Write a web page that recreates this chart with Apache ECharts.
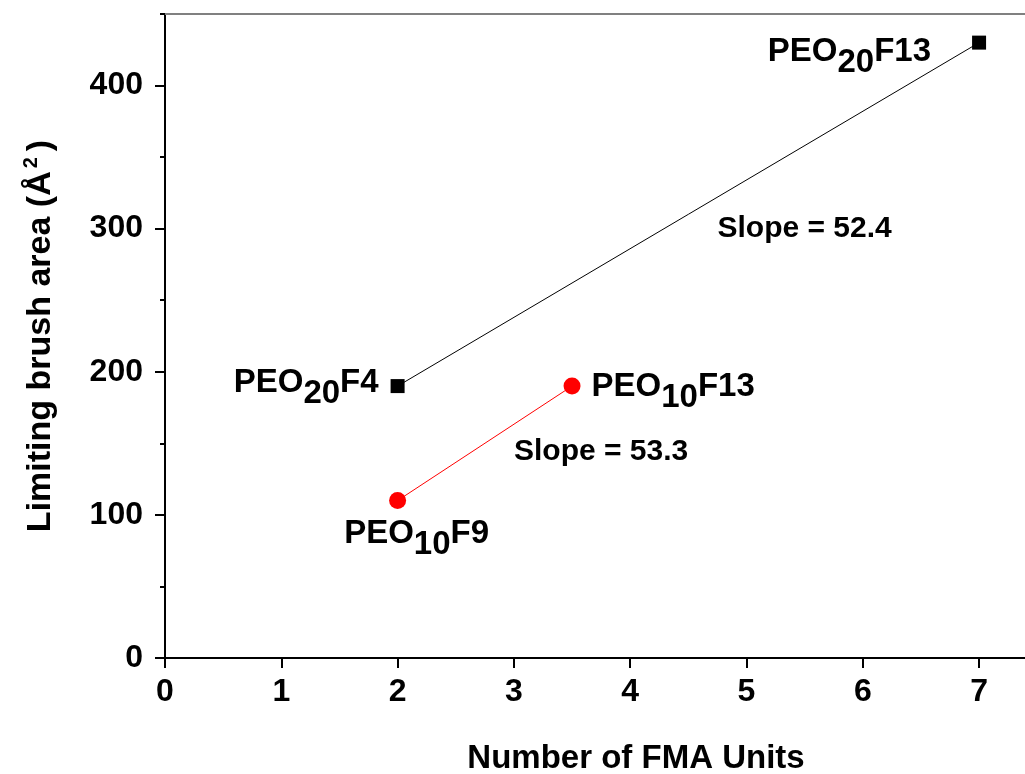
<!DOCTYPE html>
<html>
<head>
<meta charset="utf-8">
<script src="https://cdn.jsdelivr.net/npm/echarts@6/dist/echarts.min.js"></script>
<style>html,body{margin:0;padding:0;background:#fff;overflow:hidden;}#c{width:1025px;height:774px;}</style>
</head>
<body>
<div id="c"></div>
<script>
// ---- data ----
const peo20X = [2, 7];
const peo20Y = [190, 430];
const peo20Names = [['PEO', '20', 'F4'], ['PEO', '20', 'F13']];
const peo10X = [2, 3.5];
const peo10Y = [110, 190];
const peo10Names = [['PEO', '10', 'F9'], ['PEO', '10', 'F13']];
const slopeText = ['Slope = 52.4', 'Slope = 53.3'];
const slopeX = [5.5, 3.75];
const slopeY = [300, 144];
const xTicks = [0, 1, 2, 3, 4, 5, 6, 7, 8];
const yTicks = [0, 100, 200, 300, 400];
const yMinorTicks = [50, 150, 250, 350, 450];

const FONT = '"Liberation Sans", Arial, sans-serif';
const rich = {
  n: {fontSize: 33, fontWeight: 'bold', fontFamily: FONT, color: '#000', lineHeight: 34, verticalAlign: 'top'},
  s: {fontSize: 33, fontWeight: 'bold', fontFamily: FONT, color: '#000', lineHeight: 34, verticalAlign: 'top', padding: [11, 0, 0, 0]}
};
function fmtName(parts) { return '{n|' + parts[0] + '}{s|' + parts[1] + '}{n|' + parts[2] + '}'; }

const peo20Labels = [
  {position: 'left', distance: 12, offset: [0, -3]},
  {position: 'left', distance: 41, offset: [0, 10]}
];
const peo10Labels = [
  {position: 'bottom', distance: 8, offset: [19, 0]},
  {position: 'right', distance: 11, offset: [0, 1]}
];

const chart = echarts.init(document.getElementById('c'));
const tickLabel = {fontSize: 32, fontWeight: 'bold', fontFamily: FONT, color: '#000'};
chart.setOption({
  animation: false,
  grid: {left: 165, top: 14, bottom: 116, right: -82, outerBoundsMode: 'none', containLabel: false},
  xAxis: [{
    type: 'value', min: 0, max: 8.1, position: 'bottom',
    name: 'Number of FMA Units', nameLocation: 'middle', nameGap: 84,
    nameTextStyle: {fontSize: 33, fontWeight: 'bold', fontFamily: FONT, color: '#000'},
    axisLine: {show: true, onZero: false, lineStyle: {color: '#000', width: 2}},
    axisTick: {show: true, inside: false, length: 10, lineStyle: {color: '#000', width: 2}, customValues: xTicks},
    axisLabel: Object.assign({margin: 18, customValues: xTicks, formatter: v => String(v)}, tickLabel),
    splitLine: {show: false}
  }, {
    type: 'value', min: 0, max: 8.1, position: 'top',
    axisLine: {show: true, onZero: false, lineStyle: {color: '#808080', width: 2}},
    axisTick: {show: false}, axisLabel: {show: false}, splitLine: {show: false}
  }],
  yAxis: [{
    type: 'value', min: 0, max: 450, position: 'left',
    name: 'Limiting brush area (Å{sup|2})', nameLocation: 'middle', nameGap: 104, nameRotate: 90,
    nameTextStyle: {fontSize: 34, fontWeight: 'bold', fontFamily: FONT, color: '#000', lineHeight: 40,
      rich: {sup: {fontSize: 20, fontWeight: 'bold', fontFamily: FONT, color: '#000', verticalAlign: 'top', lineHeight: 40, padding: [0, 6, 0, 3]}}},
    axisLine: {show: true, onZero: false, lineStyle: {color: '#000', width: 2}},
    axisTick: {show: true, inside: false, length: 10, lineStyle: {color: '#000', width: 2}, customValues: yTicks},
    axisLabel: Object.assign({margin: 22, customValues: yTicks, formatter: v => String(v)}, tickLabel),
    splitLine: {show: false}
  }, {
    type: 'value', min: 0, max: 450, position: 'left',
    axisLine: {show: false},
    axisTick: {show: true, inside: false, length: 5, lineStyle: {color: '#000', width: 2}, customValues: yMinorTicks},
    axisLabel: {show: false}, splitLine: {show: false}
  }],
  series: [{
    type: 'line', xAxisIndex: 0, yAxisIndex: 0,
    data: peo20X.map((x, i) => ({value: [x, peo20Y[i]], label: Object.assign({show: true, formatter: fmtName(peo20Names[i]), rich: rich}, peo20Labels[i])})),
    symbol: 'rect', symbolSize: 14,
    itemStyle: {color: '#000'}, lineStyle: {color: '#000', width: 1}
  }, {
    type: 'line', xAxisIndex: 0, yAxisIndex: 0,
    data: peo10X.map((x, i) => ({value: [x, peo10Y[i]], label: Object.assign({show: true, formatter: fmtName(peo10Names[i]), rich: rich}, peo10Labels[i])})),
    symbol: 'circle', symbolSize: 17,
    itemStyle: {color: '#ff0000'}, lineStyle: {color: '#ff0000', width: 1}
  }, {
    type: 'scatter', xAxisIndex: 0, yAxisIndex: 0,
    data: slopeX.map((x, i) => ({value: [x, slopeY[i]], name: slopeText[i]})),
    symbolSize: 0, itemStyle: {color: '#000', opacity: 0}, silent: true,
    label: {show: true, position: 'inside', formatter: p => p.name, fontSize: 30, fontWeight: 'bold', fontFamily: FONT, color: '#000', opacity: 1, textBorderWidth: 0}
  }]
});
</script>
</body>
</html>
